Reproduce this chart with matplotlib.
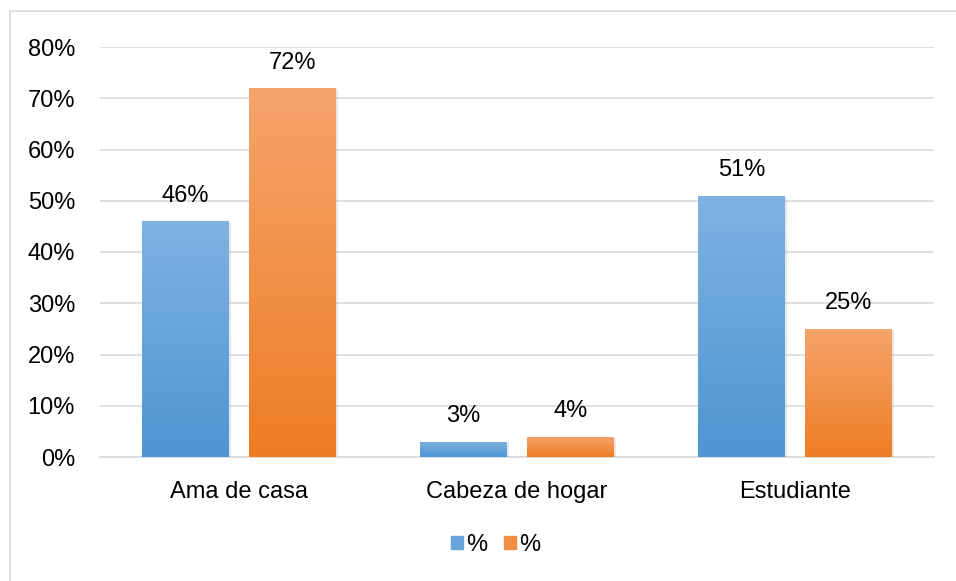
import numpy as np
import matplotlib
matplotlib.use('Agg')
import matplotlib.pyplot as plt
import matplotlib.patheffects as pe
from matplotlib.colors import LinearSegmentedColormap

plt.rcParams['font.family'] = ['Liberation Sans', 'DejaVu Sans']

categorias = ['Ama de casa', 'Cabeza de hogar', 'Estudiante']
serie1 = [0.46, 0.03, 0.51]
serie2 = [0.72, 0.04, 0.25]
etiquetas1 = ['46%', '3%', '51%']
etiquetas2 = ['72%', '4%', '25%']
yticks = [0, 0.1, 0.2, 0.3, 0.4, 0.5, 0.6, 0.7, 0.8]
ytick_labels = ['0%', '10%', '20%', '30%', '40%', '50%', '60%', '70%', '80%']

# degradados tipo Excel (abajo -> arriba)
azul = LinearSegmentedColormap.from_list('azul', ['#4E95D3', '#7FB2E1'])
naranja = LinearSegmentedColormap.from_list('naranja', ['#ED7D23', '#F5A46C'])

fig = plt.figure(figsize=(9.56, 5.81), dpi=100)
ax = fig.add_axes([100 / 956, 124 / 581, 834 / 956, 410 / 581])

x = np.arange(len(categorias))
w = 0.312
off = 0.192
grad = np.linspace(0, 1, 256).reshape(-1, 1)

for vals, etiq, cmap, dx in [(serie1, etiquetas1, azul, -off), (serie2, etiquetas2, naranja, off)]:
    bars = ax.bar(x + dx, vals, width=w, color=cmap(0.5), zorder=3,
                  path_effects=[pe.SimplePatchShadow(offset=(1.5, -1), shadow_rgbFace='#a0a0a0', alpha=0.25),
                                pe.Normal()])
    for b, v, t in zip(bars, vals, etiq):
        x0 = b.get_x()
        im = ax.imshow(grad, cmap=cmap, origin='lower', aspect='auto',
                       extent=[x0, x0 + w, 0, v], zorder=4)
        im.set_clip_path(b)
        ax.annotate(t, (b.get_x() + w / 2, v), xytext=(0, 14), textcoords='offset points',
                    ha='center', va='baseline', fontsize=17, color='#000000')

ax.set_xlim(-0.5, 2.5)
ax.set_ylim(0, 0.8)
ax.set_yticks(yticks)
ax.set_yticklabels(ytick_labels)
ax.set_xticks(x)
ax.set_xticklabels(categorias)
ax.tick_params(axis='y', length=0, pad=18, labelsize=17)
ax.tick_params(axis='x', length=0, pad=17, labelsize=17)
ax.grid(axis='y', color='#D9D9D9', linewidth=1.2, zorder=0)
for s in ['top', 'right', 'left']:
    ax.spines[s].set_visible(False)
ax.spines['bottom'].set_color('#D9D9D9')
ax.spines['bottom'].set_linewidth(1.2)

# leyenda
h1 = plt.Rectangle((0, 0), 1, 1, color='#66A5DA')
h2 = plt.Rectangle((0, 0), 1, 1, color='#F28E3F')
fig.legend([h1, h2], ['%', '%'], loc='center', bbox_to_anchor=(496 / 956, 1 - 545 / 581),
           ncol=2, frameon=False, fontsize=17, handlelength=0.5, handleheight=0.5,
           handletextpad=0.15, columnspacing=0.7)

# marco exterior
fig.add_artist(plt.Line2D([10 / 956, 10 / 956], [0, 1 - 11 / 581], color='#D9D9D9', lw=1.2))
fig.add_artist(plt.Line2D([10 / 956, 1], [1 - 11 / 581, 1 - 11 / 581], color='#D9D9D9', lw=1.2))

fig.savefig('out.png', dpi=100, facecolor='white')
